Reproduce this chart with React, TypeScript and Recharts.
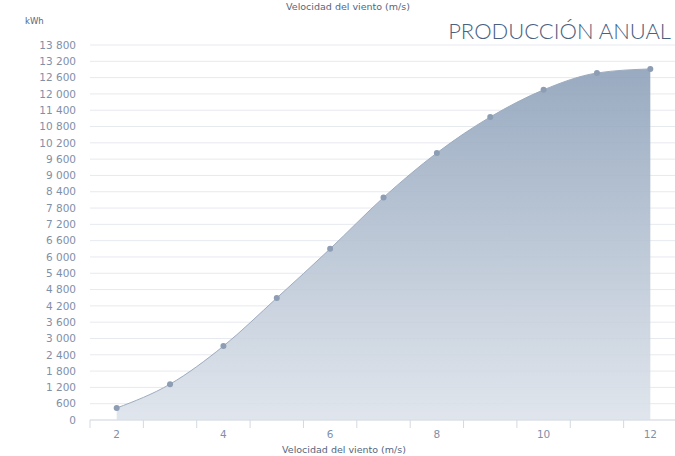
import React from 'react';
import { AreaChart, Area, XAxis, YAxis, CartesianGrid } from 'recharts';

const windSpeeds = [2, 3, 4, 5, 6, 7, 8, 9, 10, 11, 12];
const production = [440, 1320, 2720, 4490, 6300, 8190, 9830, 11150, 12150, 12770, 12920];
const yTicks = [0, 600, 1200, 1800, 2400, 3000, 3600, 4200, 4800, 5400, 6000, 6600, 7200, 7800, 8400, 9000, 9600, 10200, 10800, 11400, 12000, 12600, 13200, 13800];
const xTicks = [1.5, 2, 2.5, 3, 3.5, 4, 4.5, 5, 5.5, 6, 6.5, 7, 7.5, 8, 8.5, 9, 9.5, 10, 10.5, 11, 11.5, 12, 12.5];
const title = 'PRODUCCIÓN ANUAL';
const xTitle = 'Velocidad del viento (m/s)';
const yUnit = 'kWh';

const data = windSpeeds.map((s, i) => ({ speed: s, value: production[i] }));

const FONT = '"DejaVu Sans", sans-serif';
const TITLE_FONT = 'Lato, "Open Sans", sans-serif';
const TEXT = '#7f90a9';

const fmtY = (v: number) =>
  v >= 1000 ? `${Math.floor(v / 1000)} ${String(v % 1000).padStart(3, '0')}` : String(v);

const XTick = (props: any) => {
  const { x, y, payload } = props;
  const v = payload.value as number;
  if (!Number.isInteger(v)) {
    return <line x1={x} x2={x} y1={y} y2={y + 8} stroke="#d3d9e1" strokeWidth={1} />;
  }
  if (v % 2 === 0) {
    return (
      <text x={x} y={y + 18} textAnchor="middle" fontSize={10.5} fill={TEXT} fontFamily={FONT}>
        {v}
      </text>
    );
  }
  return <g />;
};

export default function App() {
  return (
    <div style={{ position: 'absolute', left: 0, top: 0, width: 675, height: 456, overflow: 'hidden', background: '#fff' }}>
      <AreaChart width={680} height={456} data={data} margin={{ top: 45, right: 3, left: 0, bottom: 0 }}>
        <defs>
          <linearGradient id="areaFill" x1="0" y1="0" x2="0" y2="1">
            <stop offset="0%" stopColor="#90a3bb" stopOpacity={0.92} />
            <stop offset="100%" stopColor="#dce2ea" stopOpacity={0.88} />
          </linearGradient>
        </defs>
        <CartesianGrid vertical={false} stroke="#e6e9ee" />
        <XAxis
          dataKey="speed"
          type="number"
          domain={[1.5, 12.5]}
          ticks={xTicks}
          interval={0}
          height={36}
          tickSize={0}
          tickMargin={0}
          tickLine={false}
          axisLine={{ stroke: '#d8dde4' }}
          tick={<XTick />}
        />
        <YAxis
          type="number"
          domain={[0, 13800]}
          ticks={yTicks}
          interval={0}
          width={90}
          axisLine={false}
          tickLine={false}
          tickMargin={8}
          tickFormatter={fmtY}
          tick={{ fontSize: 10.5, fill: TEXT, fontFamily: FONT }}
        />
        <Area
          type="monotone"
          dataKey="value"
          stroke="#9dabbf"
          strokeWidth={1}
          fill="url(#areaFill)"
          fillOpacity={1}
          dot={{ r: 3, fill: '#8d9db4', stroke: 'none' }}
          isAnimationActive={false}
        />
      </AreaChart>
      <svg width={675} height={456} style={{ position: 'absolute', left: 0, top: 0, pointerEvents: 'none' }}>
        <text x={348} y={10} textAnchor="middle" fontSize={9.5} fill="#56667e" fontFamily={FONT}>{xTitle}</text>
        <text x={671} y={39} textAnchor="end" fontSize={22} fill="#4a6080" fontFamily={TITLE_FONT} fontWeight={300}>{title}</text>
        <text x={25} y={24} fontSize={8.5} fill="#56667e" fontFamily={FONT}>{yUnit}</text>
        <text x={344} y={453} textAnchor="middle" fontSize={9.5} fill="#56667e" fontFamily={FONT}>{xTitle}</text>
      </svg>
    </div>
  );
}
